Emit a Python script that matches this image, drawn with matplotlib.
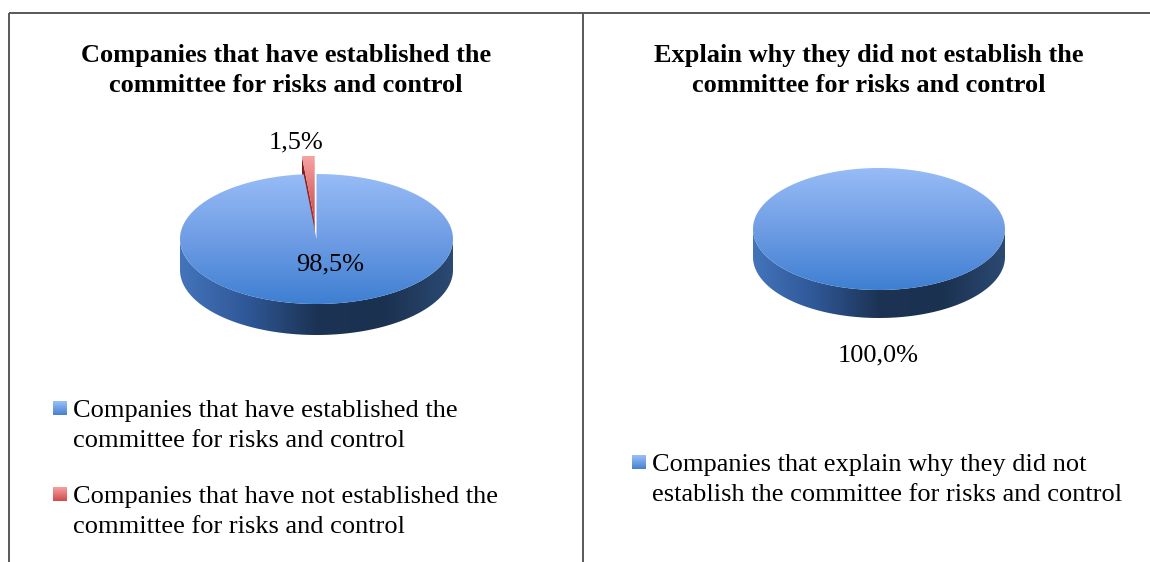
import numpy as np
import matplotlib
matplotlib.use("Agg")
import matplotlib.pyplot as plt
from matplotlib.patches import Polygon
from matplotlib.colors import LinearSegmentedColormap

# ---- data ----
left_title = ["Companies that have established the", "committee for risks and control"]
right_title = ["Explain why they did not establish the", "committee for risks and control"]

left_categories = [
    ["Companies that have established the", "committee for risks and control"],
    ["Companies that have not established the", "committee for risks and control"],
]
left_values = [98.5, 1.5]

right_categories = [
    ["Companies that explain why they did not", "establish the committee for risks and control"],
]
right_values = [100.0]

SERIF = ["Liberation Serif", "DejaVu Serif"]
FS = 19

# colour ramps (top face, side, legend swatch)
BLUE_FACE = ["#97bcf7", "#6f9de4", "#3e7fd2"]
BLUE_SIDE = ["#4374bb", "#2f5796", "#1c3354", "#1b3150", "#2b4a72"]
RED_FACE = ["#f7a3a3", "#e07474", "#c94a4a"]
RED_WALL = ["#7a1c1c", "#a83434"]
BLUE_SWATCH = ["#9cc0f8", "#4580d0"]
RED_SWATCH = ["#f7a0a0", "#d04a4a"]

W, H = 1150, 562
fig = plt.figure(figsize=(W / 100, H / 100), dpi=100)
ax = fig.add_axes([0, 0, 1, 1])
ax.axis("off")


def fill_gradient(verts, stops, direction, zorder):
    verts = np.asarray(verts)
    x0, x1 = verts[:, 0].min(), verts[:, 0].max()
    y0, y1 = verts[:, 1].min(), verts[:, 1].max()
    cmap = LinearSegmentedColormap.from_list("ramp", stops)
    g = np.linspace(0, 1, 256)
    img = g[:, None] * np.ones((1, 2)) if direction == "v" else g[None, :] * np.ones((2, 1))
    im = ax.imshow(img, cmap=cmap, vmin=0, vmax=1, extent=(x0, x1, y1, y0),
                   origin="upper", aspect="auto", interpolation="bilinear", zorder=zorder)
    clip = Polygon(verts, closed=True, transform=ax.transData)
    im.set_clip_path(clip)


def rim(cx, cy, rx, ry, t):
    """Point on the ellipse; t runs clockwise from 12 o'clock."""
    return np.column_stack([cx + rx * np.sin(t), cy - ry * np.cos(t)])


def pie3d(cx, cy, rx, ry, depth, values, face_stops, explode_idx=None, explode=0.0):
    fracs = np.asarray(values, float) / np.sum(values)
    edges = np.concatenate([[0.0], np.cumsum(fracs)]) * 2 * np.pi
    z = 2
    # exploded (back) slices first, then the main body
    order = sorted(range(len(values)), key=lambda i: 0 if i == explode_idx else 1)
    for i in order:
        t0, t1 = edges[i], edges[i + 1]
        ox = oy = 0.0
        if i == explode_idx:
            tm = 0.5 * (t0 + t1)
            ox = explode * np.sin(tm)
            oy = -explode * np.cos(tm) * ry / rx
        ccx, ccy = cx + ox, cy + oy
        ts = np.linspace(t0, t1, 200)
        arc = rim(ccx, ccy, rx, ry, ts)
        apex = np.array([[ccx, ccy]])
        if i == explode_idx:
            # visible radial wall on the leading edge
            p = rim(ccx, ccy, rx, ry, np.array([t0]))[0]
            wall = [[ccx, ccy], p, [p[0], p[1] + depth], [ccx, ccy + depth]]
            fill_gradient(wall, RED_WALL, "h", z)
            z += 1
        else:
            # front side band of the slice
            a = max(t0, np.pi / 2)
            b = min(t1, 3 * np.pi / 2)
            if b > a:
                tt = np.linspace(a, b, 200)
                top = rim(ccx, ccy, rx, ry, tt)
                bot = top + [0, depth]
                band = np.vstack([top, bot[::-1]])
                fill_gradient(band, BLUE_SIDE, "h", z)
                z += 1
        if np.isclose(t1 - t0, 2 * np.pi):
            face = arc
        else:
            face = np.vstack([apex, arc])
        fill_gradient(face, face_stops[i], "v", z)
        z += 1


def pct(v):
    return f"{v:.1f}%".replace(".", ",")


# ---- panel frame ----
line_kw = dict(color="#595959", lw=1.4, solid_capstyle="butt", zorder=10)
ax.plot([9, W], [13, 13], **line_kw)
ax.plot([9, 9], [13, H], **line_kw)
ax.plot([583, 583], [13, H], **line_kw)

# ---- titles ----
for k, line in enumerate(left_title):
    ax.text(286, 62 + 30 * k, line, ha="center", va="baseline", fontsize=FS,
            fontweight="bold", family=SERIF)
for k, line in enumerate(right_title):
    ax.text(869, 62 + 30 * k, line, ha="center", va="baseline", fontsize=FS,
            fontweight="bold", family=SERIF)

# ---- left pie ----
pie3d(316.5, 239, 136.5, 65, 31, left_values, [BLUE_FACE, RED_FACE],
      explode_idx=1, explode=38)
ax.text(330, 270, pct(left_values[0]), ha="center", va="baseline", fontsize=FS,
        family=SERIF, zorder=20)
ax.text(296, 148, pct(left_values[1]), ha="center", va="baseline", fontsize=FS,
        family=SERIF, zorder=20)

# ---- right pie ----
pie3d(879, 229, 126, 61, 28, right_values, [BLUE_FACE])
ax.text(878, 361, pct(right_values[0]), ha="center", va="baseline", fontsize=FS,
        family=SERIF, zorder=20)


# ---- legends ----
def legend_entry(x, y_top, lines, stops):
    sq = [[x, y_top], [x + 14, y_top], [x + 14, y_top + 14], [x, y_top + 14]]
    fill_gradient(sq, stops, "v", 15)
    for k, line in enumerate(lines):
        ax.text(x + 20, y_top + 16 + 30 * k, line, ha="left", va="baseline",
                fontsize=FS, family=SERIF, zorder=20)


legend_entry(53, 401, left_categories[0], BLUE_SWATCH)
legend_entry(53, 487, left_categories[1], RED_SWATCH)
legend_entry(632, 455, right_categories[0], BLUE_SWATCH)

ax.set_xlim(0, W)
ax.set_ylim(H, 0)
fig.savefig("out.png", dpi=100, facecolor="white")
